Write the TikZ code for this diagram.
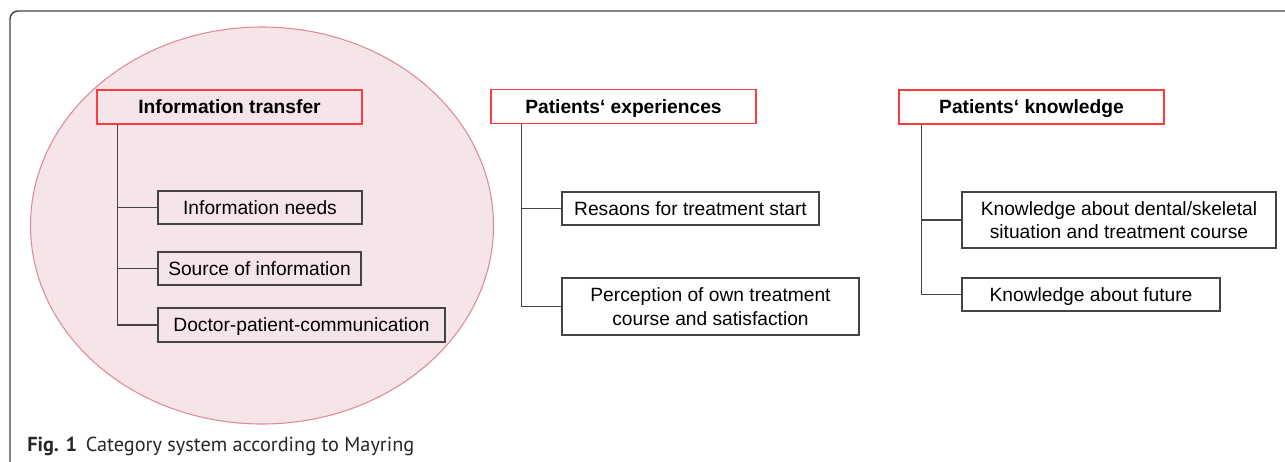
\documentclass[tikz,border=0pt]{standalone}
\usepackage{fontspec}
\setmainfont{Liberation Sans}
\newfontfamily\capfont{PT Sans}
\definecolor{ovalfill}{HTML}{F5E4E8}
\definecolor{ovaldraw}{HTML}{DD8A99}
\definecolor{catred}{HTML}{FF3B3B}
\definecolor{linegray}{HTML}{444444}
\newcommand{\px}{.75pt}

\begin{document}
\begin{tikzpicture}[x=.75pt,y=-.75pt,
  cat/.style={draw=catred,line width=.9pt,inner sep=0pt,minimum width=265*\px,minimum height=34*\px,
    text height=10.3pt,text depth=0pt,font=\bfseries\fontsize{14.4}{17.5}\selectfont},
  sub/.style={draw=linegray,line width=.8pt,inner sep=0pt,align=center,
    font=\fontsize{14.4}{17.5}\selectfont},
  subone/.style={sub,text height=10.3pt,text depth=0pt},
  branch/.style={draw=linegray,line width=.8pt}]
\useasboundingbox (0,0) rectangle (1285,461);
% frame and oval
\draw[linegray,line width=1.1pt,rounded corners=6pt] (10,480) |- (1300,11);
\draw[ovaldraw,fill=ovalfill,line width=.8pt] (262,225.5) ellipse [x radius=231.5,y radius=198.5];
% main categories
\node[cat] (info) at (229.5,107) {Information transfer};
\node[cat] (exper) at (623.5,106.5) {Patients‘ experiences};
\node[cat] (know) at (1031.5,107) {Patients‘ knowledge};
% sub categories
\node[subone,minimum width=204*\px,minimum height=33*\px] (needs) at (260,207.5) {Information needs};
\node[subone,minimum width=203*\px,minimum height=33*\px] (source) at (259.5,268.5) {Source of information};
\node[subone,minimum width=287*\px,minimum height=34*\px] (doctor) at (301.5,325) {Doctor-patient-communication};
\node[subone,minimum width=257*\px,minimum height=33*\px] (reason) at (690.5,208.5) {Resaons for treatment start};
\node[sub,minimum width=297*\px,minimum height=57*\px] (percep) at (710.5,306.5) {Perception of own treatment\\course and satisfaction};
\node[sub,minimum width=314*\px,minimum height=56*\px] (dental) at (1119,220) {Knowledge about dental/skeletal\\situation and treatment course};
\node[subone,minimum width=258*\px,minimum height=33*\px] (future) at (1091,294.5) {Knowledge about future};
% tree lines
\foreach \c in {needs,source,doctor}
  \draw[branch] (info.south west) ++(21,0) |- (\c.west);
\foreach \c in {reason,percep}
  \draw[branch] (exper.south west) ++(31,0) |- (\c.west);
\foreach \c in {dental,future}
  \draw[branch] (know.south west) ++(23,0) |- (\c.west);
% caption
\node[anchor=base west,inner sep=0pt,text=black!85,font=\capfont\fontsize{15.2}{18}\selectfont] (caption) at (27,451.5)
  {\textbf{Fig. 1}\hspace{6.5pt}Category system according to Mayring};
\end{tikzpicture}
\end{document}
